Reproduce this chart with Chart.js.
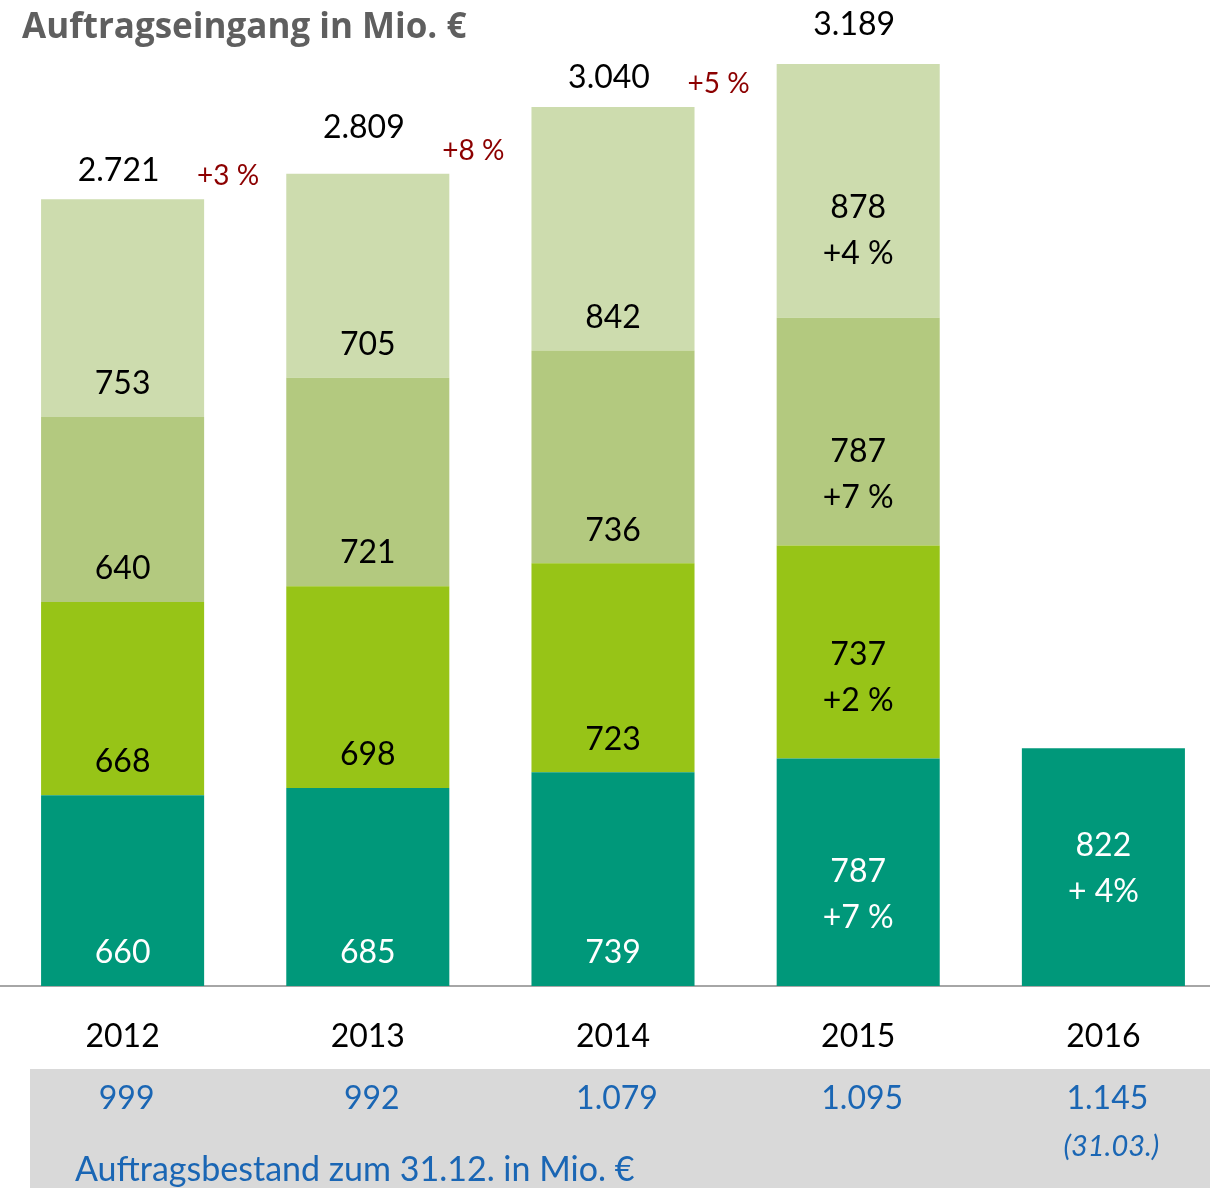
<!DOCTYPE html>
<html>
<head>
<meta charset="utf-8">
<script src="https://cdn.jsdelivr.net/npm/chart.js@4.4.1/dist/chart.umd.min.js"></script>
<style>
  html, body { margin: 0; padding: 0; background: #fff; overflow: hidden; }
  #wrap { width: 1226px; height: 1188px; }
</style>
</head>
<body>
<div id="wrap"><canvas id="orderChart" width="1226" height="1188"></canvas></div>
<script>
// DATA
const years = ["2012", "2013", "2014", "2015", "2016"];
const q1 = [660, 685, 739, 787, 822];
const q2 = [668, 698, 723, 737, null];
const q3 = [640, 721, 736, 787, null];
const q4 = [753, 705, 842, 878, null];

const q1Change = [null, null, null, "+7 %", "+ 4%"];
const q2Change = [null, null, null, "+2 %", null];
const q3Change = [null, null, null, "+7 %", null];
const q4Change = [null, null, null, "+4 %", null];
const totalChange = ["+3 %", "+8 %", "+5 %", null, null];

const backlog = [999, 992, 1079, 1095, 1145];
const backlogNote = [null, null, null, null, "(31.03.)"];
const backlogCaption = "Auftragsbestand zum 31.12. in Mio. €";
const chartTitle = "Auftragseingang in Mio. €";

const FONT = "Lato, 'Open Sans', sans-serif";
const changes = [q1Change, q2Change, q3Change, q4Change];

function fmt(n) {
  return String(n).replace(/\B(?=(\d{3})+(?!\d))/g, ".");
}

// labels drawn on top of bars
const labelsPlugin = {
  id: "labels",
  afterDatasetsDraw(chart) {
    const ctx = chart.ctx;
    const twoLineShift = [22, 26, 43, 40];
    ctx.save();
    ctx.textAlign = "center";
    ctx.textBaseline = "middle";

    chart.data.datasets.forEach((ds, di) => {
      const meta = chart.getDatasetMeta(di);
      meta.data.forEach((bar, i) => {
        const v = ds.data[i];
        if (v == null) return;
        const change = changes[di][i];
        ctx.fillStyle = di === 0 ? "#ffffff" : "#000000";
        ctx.font = "32px " + FONT;
        if (change) {
          const mid = (bar.y + bar.base) / 2 + (i === 4 ? 2 : twoLineShift[di]);
          ctx.fillText(fmt(v), bar.x, mid - 23);
          ctx.fillText(change, bar.x, mid + 23);
        } else {
          ctx.fillText(fmt(v), bar.x, bar.base - 33);
        }
      });
    });

    // totals and yearly change
    const lift = [29, 46, 29, 39, 30];
    const topMeta = chart.getDatasetMeta(3);
    topMeta.data.forEach((bar, i) => {
      if (q4[i] == null) return;
      const total = q1[i] + q2[i] + q3[i] + q4[i];
      ctx.fillStyle = "#000000";
      ctx.font = "32px " + FONT;
      ctx.fillText(fmt(total), bar.x - 4, bar.y - lift[i]);
      if (totalChange[i]) {
        ctx.fillStyle = "#8c0000";
        ctx.font = "28px " + FONT;
        ctx.fillText(totalChange[i], bar.x + bar.width / 2 + 24, bar.y - 23);
      }
    });
    ctx.restore();
  },
  afterDraw(chart) {
    const ctx = chart.ctx;
    const xs = chart.scales.x;
    ctx.save();

    // title
    ctx.fillStyle = "#5f5f5f";
    ctx.font = "bold 35px 'Open Sans', Lato, sans-serif";
    ctx.textAlign = "left";
    ctx.textBaseline = "middle";
    ctx.fillText(chartTitle, 22, 28);

    // backlog band
    ctx.fillStyle = "#d9d9d9";
    ctx.fillRect(30, 1069, 1200, 130);
    ctx.fillStyle = "#1a66b4";
    ctx.textAlign = "center";
    backlog.forEach((v, i) => {
      const px = xs.getPixelForValue(i) + 4;
      ctx.font = "32px " + FONT;
      ctx.fillText(fmt(v), px, 1099);
      if (backlogNote[i]) {
        ctx.font = "italic 29px " + FONT;
        ctx.fillText(backlogNote[i], px + 4, 1147);
      }
    });
    ctx.font = "34px " + FONT;
    ctx.textAlign = "left";
    ctx.fillText(backlogCaption, 75, 1170);
    ctx.restore();
  }
};

const ctx = document.getElementById("orderChart");

new Chart(ctx, {
  type: "bar",
  data: {
    labels: years,
    datasets: [
      { label: "Q1", data: q1, backgroundColor: "#00987a" },
      { label: "Q2", data: q2, backgroundColor: "#97c417" },
      { label: "Q3", data: q3, backgroundColor: "#b3c97f" },
      { label: "Q4", data: q4, backgroundColor: "#cddcae" }
    ]
  },
  options: {
    responsive: false,
    animation: false,
    devicePixelRatio: 1,
    layout: { padding: { top: 3, left: 0, right: 0, bottom: 0 } },
    datasets: {
      bar: { categoryPercentage: 0.665, barPercentage: 1, borderWidth: 0 }
    },
    plugins: {
      legend: { display: false },
      tooltip: { enabled: false }
    },
    scales: {
      x: {
        stacked: true,
        grid: { display: false },
        border: { display: true, color: "#a6a6a6", width: 2 },
        ticks: {
          color: "#000000",
          font: { family: FONT, size: 32 },
          padding: 23
        },
        afterFit: scale => { scale.height = 202; }
      },
      y: {
        stacked: true,
        display: false,
        min: 0,
        max: 3400
      }
    }
  },
  plugins: [labelsPlugin]
});
</script>
</body>
</html>
